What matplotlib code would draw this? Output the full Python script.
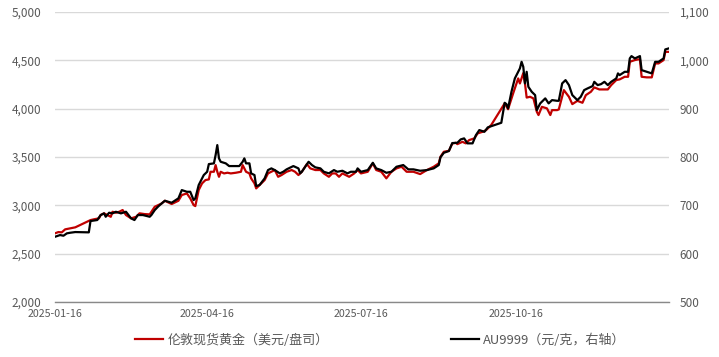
import numpy as np
import pandas as pd
import matplotlib
matplotlib.use('Agg')
import matplotlib.pyplot as plt
import matplotlib.dates as mdates
from matplotlib.ticker import FuncFormatter

plt.rcParams['font.family'] = ['Noto Sans CJK SC', 'DejaVu Sans']

#%% data
# London spot gold, USD/oz (left axis)
red_dates = [
    '2025-01-16', '2025-01-18', '2025-01-20', '2025-01-22', '2025-01-25', '2025-01-28',
    '2025-02-06', '2025-02-08', '2025-02-11', '2025-02-12', '2025-02-14', '2025-02-16',
    '2025-02-18', '2025-02-19', '2025-02-21', '2025-02-23', '2025-02-25', '2025-02-27',
    '2025-03-02', '2025-03-05', '2025-03-07', '2025-03-10', '2025-03-13', '2025-03-14',
    '2025-03-16', '2025-03-18', '2025-03-20', '2025-03-22', '2025-03-26', '2025-03-30',
    '2025-04-01', '2025-04-04', '2025-04-06', '2025-04-08', '2025-04-09', '2025-04-11',
    '2025-04-13', '2025-04-15', '2025-04-17', '2025-04-18', '2025-04-20', '2025-04-21',
    '2025-04-22', '2025-04-23', '2025-04-24', '2025-04-26', '2025-04-28', '2025-04-30',
    '2025-05-03', '2025-05-06', '2025-05-07', '2025-05-09', '2025-05-11', '2025-05-12',
    '2025-05-14', '2025-05-15', '2025-05-16', '2025-05-18', '2025-05-20', '2025-05-22',
    '2025-05-24', '2025-05-26', '2025-05-28', '2025-05-30',
    '2025-06-02', '2025-06-05', '2025-06-07', '2025-06-09', '2025-06-11', '2025-06-14',
    '2025-06-16', '2025-06-19', '2025-06-22', '2025-06-24', '2025-06-27', '2025-06-29',
    '2025-07-01', '2025-07-03', '2025-07-05', '2025-07-07', '2025-07-09', '2025-07-12',
    '2025-07-14', '2025-07-16', '2025-07-20', '2025-07-23', '2025-07-25', '2025-07-28',
    '2025-07-31',
    '2025-08-03', '2025-08-06', '2025-08-09', '2025-08-12', '2025-08-16', '2025-08-20',
    '2025-08-24', '2025-08-28', '2025-08-31',
    '2025-09-01', '2025-09-03', '2025-09-06', '2025-09-08', '2025-09-10', '2025-09-11',
    '2025-09-14', '2025-09-16', '2025-09-18', '2025-09-21', '2025-09-23', '2025-09-26',
    '2025-09-28',
    '2025-10-01', '2025-10-09', '2025-10-11', '2025-10-14', '2025-10-16', '2025-10-17',
    '2025-10-18', '2025-10-20', '2025-10-21', '2025-10-22', '2025-10-24', '2025-10-26',
    '2025-10-28', '2025-10-29', '2025-10-31',
    '2025-11-03', '2025-11-05', '2025-11-06', '2025-11-09', '2025-11-10', '2025-11-13',
    '2025-11-16', '2025-11-18', '2025-11-21', '2025-11-24', '2025-11-26', '2025-11-29',
    '2025-12-01', '2025-12-04', '2025-12-09', '2025-12-11', '2025-12-14', '2025-12-16',
    '2025-12-19', '2025-12-21', '2025-12-22', '2025-12-25', '2025-12-27', '2025-12-28',
    '2025-12-29',
    '2026-01-01', '2026-01-04', '2026-01-06', '2026-01-08', '2026-01-11', '2026-01-12',
    '2026-01-14']
red_vals = [
    2711, 2724, 2721, 2752, 2762, 2773,
    2848, 2856, 2866, 2900, 2918, 2900,
    2882, 2934, 2924, 2934, 2952, 2900,
    2866, 2882, 2918, 2910, 2907, 2934,
    2986, 3003, 3019, 3048, 3014, 3048,
    3107, 3124, 3073, 3003, 2993, 3159,
    3228, 3262, 3269, 3348, 3348, 3417,
    3348, 3296, 3348, 3331, 3338, 3331,
    3338, 3348, 3417, 3348, 3331, 3280,
    3228, 3176, 3193, 3228, 3262, 3331,
    3348, 3366, 3296, 3314,
    3348, 3366, 3348, 3314, 3348, 3428,
    3383, 3366, 3366, 3331, 3296, 3331,
    3331, 3296, 3331, 3314, 3296, 3331,
    3366, 3331, 3348, 3435, 3366, 3348,
    3280,
    3348, 3383, 3400, 3348, 3348, 3324,
    3366, 3400, 3435,
    3503, 3555, 3565, 3640, 3648, 3634,
    3658, 3642, 3676, 3693, 3745, 3762,
    3779,
    3831, 4056, 3995, 4159, 4262, 4314,
    4262, 4369, 4262, 4116, 4124, 4107,
    3969, 3935, 4020,
    4004, 3935, 3986, 3986, 3993, 4193,
    4124, 4048, 4082, 4062, 4141, 4176,
    4221, 4200, 4200, 4245, 4297, 4304,
    4331, 4331, 4486, 4504, 4511, 4511,
    4331,
    4325, 4325, 4469, 4469, 4504, 4589,
    4589]

# AU9999, CNY/g (right axis)
au_dates = [
    '2025-01-16', '2025-01-19', '2025-01-21', '2025-01-23', '2025-01-25', '2025-01-28',
    '2025-02-05', '2025-02-06', '2025-02-10', '2025-02-12', '2025-02-14', '2025-02-15',
    '2025-02-17', '2025-02-19', '2025-02-21', '2025-02-24', '2025-02-27',
    '2025-03-02', '2025-03-04', '2025-03-06', '2025-03-09', '2025-03-13', '2025-03-14',
    '2025-03-16', '2025-03-18', '2025-03-20', '2025-03-22', '2025-03-26', '2025-03-30',
    '2025-04-01', '2025-04-04', '2025-04-06', '2025-04-08', '2025-04-09', '2025-04-11',
    '2025-04-14', '2025-04-16', '2025-04-17', '2025-04-20', '2025-04-21', '2025-04-22',
    '2025-04-23', '2025-04-24', '2025-04-27', '2025-04-29',
    '2025-05-05', '2025-05-07', '2025-05-08', '2025-05-09', '2025-05-11', '2025-05-12',
    '2025-05-14', '2025-05-15', '2025-05-17', '2025-05-20', '2025-05-22', '2025-05-24',
    '2025-05-26', '2025-05-29', '2025-05-31',
    '2025-06-02', '2025-06-06', '2025-06-09', '2025-06-10', '2025-06-11', '2025-06-13',
    '2025-06-15', '2025-06-17', '2025-06-19', '2025-06-22', '2025-06-24', '2025-06-27',
    '2025-06-30',
    '2025-07-02', '2025-07-05', '2025-07-08', '2025-07-10', '2025-07-13', '2025-07-14',
    '2025-07-16', '2025-07-20', '2025-07-23', '2025-07-25', '2025-07-28', '2025-07-31',
    '2025-08-03', '2025-08-06', '2025-08-10', '2025-08-13', '2025-08-16', '2025-08-20',
    '2025-08-24', '2025-08-28', '2025-08-31',
    '2025-09-01', '2025-09-03', '2025-09-06', '2025-09-08', '2025-09-11', '2025-09-13',
    '2025-09-15', '2025-09-17', '2025-09-20', '2025-09-22', '2025-09-24', '2025-09-27',
    '2025-09-29',
    '2025-10-07', '2025-10-09', '2025-10-10', '2025-10-11', '2025-10-13', '2025-10-15',
    '2025-10-18', '2025-10-19', '2025-10-20', '2025-10-21', '2025-10-22', '2025-10-23',
    '2025-10-25', '2025-10-27', '2025-10-28', '2025-10-30',
    '2025-11-02', '2025-11-04', '2025-11-06', '2025-11-09', '2025-11-10', '2025-11-12',
    '2025-11-14', '2025-11-16', '2025-11-18', '2025-11-20', '2025-11-21', '2025-11-23',
    '2025-11-25', '2025-11-27', '2025-11-30',
    '2025-12-01', '2025-12-03', '2025-12-05', '2025-12-07', '2025-12-09', '2025-12-11',
    '2025-12-14', '2025-12-15', '2025-12-16', '2025-12-19', '2025-12-21', '2025-12-22',
    '2025-12-23', '2025-12-25', '2025-12-27', '2025-12-28', '2025-12-29',
    '2026-01-01', '2026-01-04', '2026-01-06', '2026-01-08', '2026-01-11', '2026-01-12',
    '2026-01-14']
au_vals = [
    635.1, 638.6, 637.2, 642.1, 643.4, 644.8,
    644.2, 667.6, 669.7, 680.0, 683.5, 676.5,
    684.8, 683.5, 686.8, 683.5, 686.8,
    673.2, 669.7, 680.0, 680.0, 676.5, 680.0,
    690.3, 697.6, 703.8, 709.6, 705.5, 714.6,
    731.7, 728.2, 728.2, 711.0, 714.6, 742.1,
    762.8, 769.6, 785.5, 787.0, 804.1, 824.8,
    797.3, 790.3, 787.0, 781.4,
    781.4, 790.3, 797.3, 787.0, 787.0, 766.3,
    762.8, 740.0, 742.1, 755.9, 773.1, 776.6,
    773.1, 766.3, 769.6,
    774.6, 781.4, 776.6, 766.3, 769.6, 780.0,
    790.3, 783.5, 778.7, 776.6, 769.6, 766.3,
    773.1,
    769.6, 771.7, 766.3, 769.6, 769.6, 776.6,
    769.6, 773.1, 788.2, 776.6, 773.1, 767.5,
    769.6, 780.0, 783.5, 774.6, 774.6, 771.7,
    773.1, 776.6, 783.5,
    799.4, 808.9, 812.5, 829.0, 829.6, 836.6,
    838.7, 828.4, 828.4, 845.5, 855.9, 852.3,
    861.5,
    871.0, 912.4, 909.7, 900.8, 935.1, 962.8,
    983.5, 997.2, 986.8, 952.5, 976.5, 945.5,
    935.1, 928.3, 897.2, 911.1,
    921.5, 911.1, 917.9, 916.5, 916.5, 952.5,
    959.3, 949.0, 928.3, 921.5, 917.9, 924.8,
    938.6, 942.1, 946.9,
    955.8, 949.0, 951.0, 955.8, 949.0, 955.8,
    962.8, 973.2, 969.7, 976.5, 976.5, 1004.2,
    1009.0, 1004.2, 1007.5, 1009.0, 980.0,
    976.5, 973.2, 997.2, 997.2, 1004.2, 1022.8,
    1024.9]

tick_dates = ['2025-01-16', '2025-04-16', '2025-07-16', '2025-10-16']
red_label = '伦敦现货黄金（美元/盘司）'
au_label = 'AU9999（元/克，右轴）'

#%% plot
txt_col = '#595959'
grid_col = '#D9D9D9'

fig = plt.figure(figsize=(7.19, 3.57), dpi=100)
ax = fig.add_axes([0.0765, 0.154, 0.8535, 0.812])
ax2 = ax.twinx()

l1, = ax.plot(pd.to_datetime(red_dates), red_vals, color='#C00000', lw=1.6, zorder=3)
l2, = ax2.plot(pd.to_datetime(au_dates), au_vals, color='black', lw=1.6, zorder=4)

ax.set_ylim(2000, 5000)
ax.set_yticks(np.arange(2000, 5001, 500))
ax.yaxis.set_major_formatter(FuncFormatter(lambda v, p: '{:,.0f}'.format(v)))
ax2.set_ylim(500, 1100)
ax2.set_yticks(np.arange(500, 1101, 100))
ax2.yaxis.set_major_formatter(FuncFormatter(lambda v, p: '{:,.0f}'.format(v)))

ax.set_xlim(pd.Timestamp('2025-01-16'), pd.Timestamp('2026-01-14'))
ax.set_xticks(pd.to_datetime(tick_dates))
ax.xaxis.set_major_formatter(mdates.DateFormatter('%Y-%m-%d'))

ax.grid(axis='y', color=grid_col, lw=1.0)
ax.set_axisbelow(True)
for a in (ax, ax2):
    for s in ('top', 'left', 'right', 'bottom'):
        a.spines[s].set_visible(False)
ax.spines['bottom'].set_visible(True)
ax.spines['bottom'].set_color('#898989')
ax.spines['bottom'].set_linewidth(1.0)

ax.tick_params(axis='y', length=0, pad=10, labelsize=8.5, labelcolor=txt_col)
ax.tick_params(axis='x', length=0, pad=5, labelsize=7.7, labelcolor=txt_col)
ax2.tick_params(axis='y', length=0, pad=8, labelsize=8.5, labelcolor=txt_col)

fig.legend([l1, l2], [red_label, au_label], loc='lower center', ncol=2,
           bbox_to_anchor=(0.529, -0.005), frameon=False, fontsize=9.4,
           handlelength=2.15, columnspacing=9.4, handletextpad=0.3,
           labelcolor=txt_col)

fig.savefig('out.png', dpi=100)
